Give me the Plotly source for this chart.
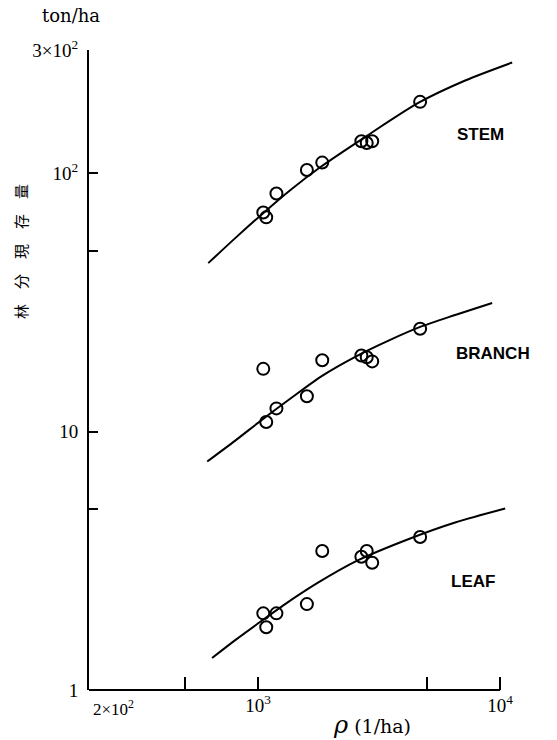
import math
import plotly.graph_objects as go

# Stand density (trees per ha) for the nine sample stands
density = [1050, 1080, 1190, 1590, 1840, 2670, 2810, 2960, 4670]

# Stand biomass per component (ton/ha)
stem = [70.5, 67.5, 83.5, 103, 110, 133, 131, 133, 189]
branch = [17.5, 10.9, 12.3, 13.7, 18.9, 19.7, 19.4, 18.7, 25.0]
leaf = [1.98, 1.75, 1.98, 2.15, 3.45, 3.28, 3.45, 3.11, 3.91]

# Fitted density-biomass curves
stem_curve_x = [622, 804, 1049, 1356, 1804, 2795, 4627, 7170, 11210]
stem_curve_y = [44.9, 56.1, 70.1, 86.0, 105.5, 139.0, 188.0, 228.6, 268.3]
branch_curve_x = [616, 804, 1039, 1356, 1838, 2565, 3512, 4671, 6516, 9267]
branch_curve_y = [7.66, 9.23, 11.13, 13.41, 16.45, 19.66, 22.66, 25.43, 28.29, 31.49]
leaf_curve_x = [645, 804, 991, 1293, 1753, 2590, 4248, 6516, 10490]
leaf_curve_y = [1.33, 1.56, 1.80, 2.15, 2.59, 3.18, 3.86, 4.45, 5.04]

# Series labels and where they sit (density, biomass)
series_labels = ["STEM", "BRANCH", "LEAF"]
label_density = [8260, 9354, 7730]
label_mass = [141.5, 20.1, 2.64]

# Axis ticks (labelled) and unlabelled intermediate ticks
x_tickvals = [1000, 10000]
x_ticktext = ["10<sup>3</sup>", "10<sup>4</sup>"]
x_minorvals = [500, 5000]
y_tickvals = [1, 10, 100, 300]
y_ticktext = ["1", "10", "10<sup>2</sup>", "3×10<sup>2</sup>"]
y_minorvals = [5, 50]

W, H = 557, 740
ML, MR, MT, MB = 89, 37, 50, 50
PW = W - ML - MR
PH = H - MT - MB
X_MIN = 200
X_RANGE = [math.log10(X_MIN), math.log10(X_MIN) + PW / 242.0]
Y_RANGE = [0, math.log10(300)]

SERIF = "Liberation Serif"


def px_x(px):
    return (px - ML) / PW


def px_y(py):
    return (H - MB - py) / PH


fig = go.Figure()

for cx, cy in [(stem_curve_x, stem_curve_y),
               (branch_curve_x, branch_curve_y),
               (leaf_curve_x, leaf_curve_y)]:
    fig.add_trace(go.Scatter(
        x=cx, y=cy, mode="lines",
        line=dict(color="black", width=2, shape="spline", smoothing=0.8),
        showlegend=False, hoverinfo="skip"))

for vals in [stem, branch, leaf]:
    fig.add_trace(go.Scatter(
        x=density, y=vals, mode="markers",
        marker=dict(symbol="circle-open", size=12, color="black",
                    line=dict(color="black", width=2)),
        showlegend=False))

annotations = []
for text, dx, my in zip(series_labels, label_density, label_mass):
    annotations.append(dict(
        x=math.log10(dx), y=math.log10(my), xref="x", yref="y",
        xanchor="center", yanchor="middle",
        text=text, showarrow=False,
        font=dict(family="Liberation Sans", size=17,
                  color="black", weight="bold")))

annotations += [
    dict(x=px_x(71), y=px_y(16), xref="paper", yref="paper",
         xanchor="center", yanchor="middle",
         text="ton/ha", showarrow=False,
         font=dict(family="DejaVu Serif", size=18, color="black")),
    dict(x=px_x(91), y=px_y(708), xref="paper", yref="paper",
         xanchor="left", yanchor="middle",
         text="2×10<sup>2</sup>", showarrow=False,
         font=dict(family=SERIF, size=17, color="black")),
    dict(x=px_x(20), y=px_y(252), xref="paper", yref="paper",
         xanchor="center", yanchor="middle",
         text="林　分　現　存　量", textangle=-90, showarrow=False,
         font=dict(family="Noto Sans CJK JP", size=15, color="black")),
    dict(x=px_x(372), y=px_y(725), xref="paper", yref="paper",
         xanchor="center", yanchor="middle",
         text="<i><span style='font-size:24px'>ρ</span></i> (1/ha)",
         showarrow=False,
         font=dict(family="DejaVu Serif", size=19, color="black")),
]

# x axis line runs only from 2×10² to 10⁴
shapes = [dict(type="line", xref="x", yref="paper",
               x0=X_MIN, x1=10000, y0=0, y1=0,
               line=dict(color="black", width=2))]

fig.update_layout(
    width=W, height=H,
    margin=dict(l=ML, r=MR, t=MT, b=MB),
    paper_bgcolor="white", plot_bgcolor="white",
    annotations=annotations, shapes=shapes,
    xaxis=dict(type="log", range=X_RANGE, showgrid=False, zeroline=False,
               showline=False, ticks="inside", ticklen=13, tickwidth=2,
               tickcolor="black", tickmode="array",
               tickvals=x_tickvals, ticktext=x_ticktext,
               ticklabelstandoff=2,
               minor=dict(tickmode="array", tickvals=x_minorvals,
                          ticks="inside", ticklen=13, tickwidth=2,
                          tickcolor="black", showgrid=False),
               tickfont=dict(family=SERIF, size=19, color="black")),
    yaxis=dict(type="log", range=Y_RANGE, showgrid=False, zeroline=False,
               showline=True, linecolor="black", linewidth=2,
               ticks="inside", ticklen=9, tickwidth=2, tickcolor="black",
               tickmode="array", tickvals=y_tickvals, ticktext=y_ticktext,
               ticklabelstandoff=5,
               minor=dict(tickmode="array", tickvals=y_minorvals,
                          ticks="inside", ticklen=9, tickwidth=2,
                          tickcolor="black", showgrid=False),
               tickfont=dict(family=SERIF, size=19, color="black")),
)

fig.write_html("out.html")
